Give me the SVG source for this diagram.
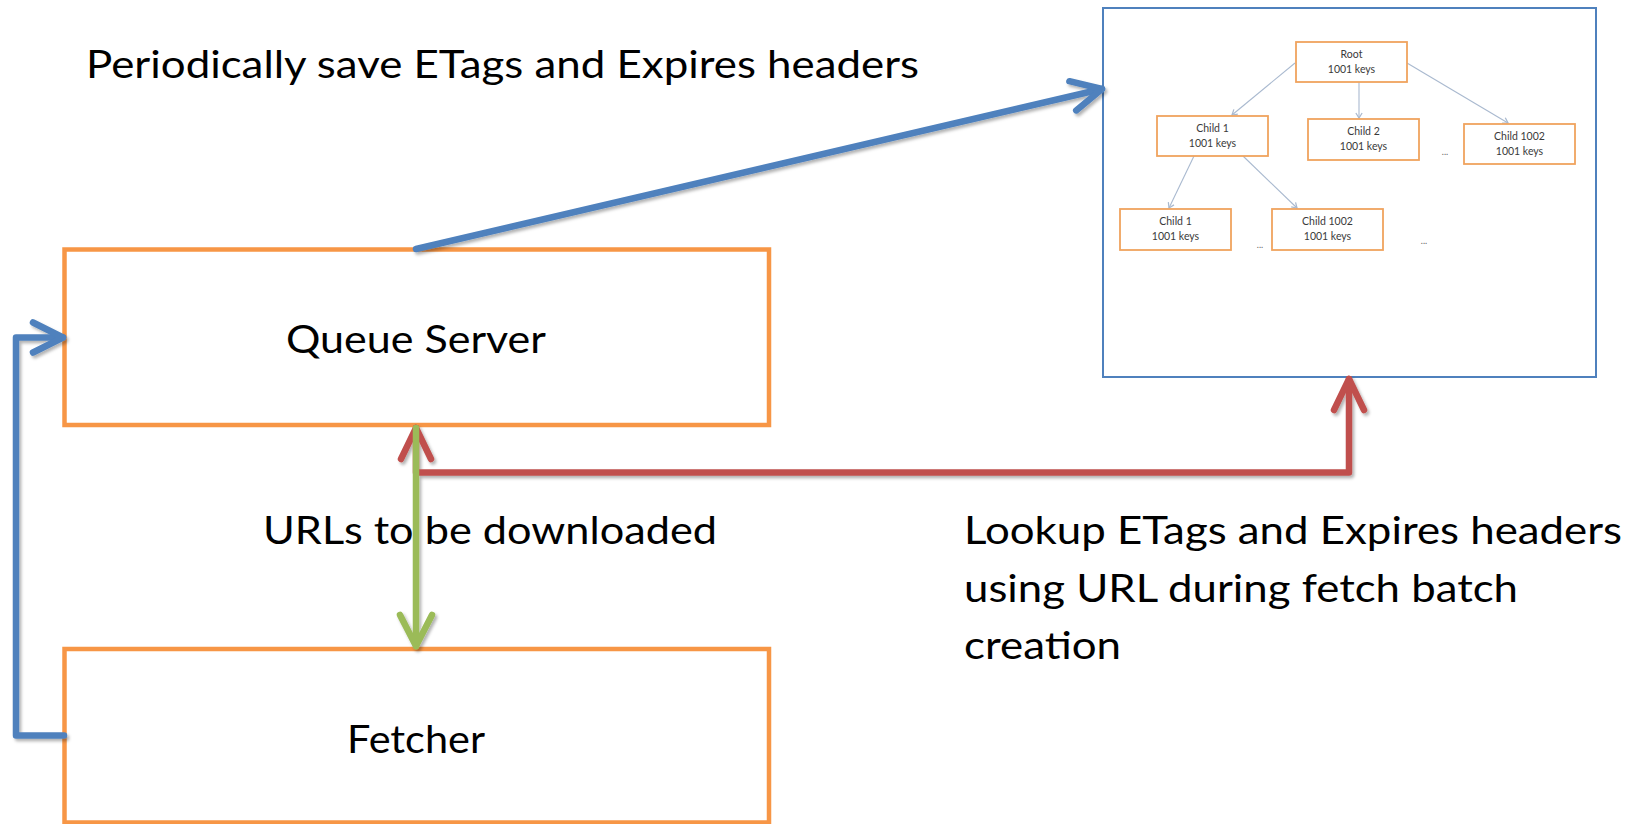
<svg xmlns="http://www.w3.org/2000/svg" width="1638" height="824" viewBox="0 0 1638 824">
  <defs>
    <style>
      .main { font-family: Lato, "Open Sans", "Liberation Sans", sans-serif; font-size: 38.5px; fill: #000; }
      .box { fill: #fff; stroke: #F79646; stroke-width: 4.5; }
      .conn { fill: none; stroke-width: 6.5; stroke-linecap: round; stroke-linejoin: round; }
      .tbox { fill: #fff; stroke: #F0A35E; stroke-width: 1.8; }
      .ttext { font-family: Lato, "Open Sans", "Liberation Sans", sans-serif; font-size: 10.5px; fill: #3a3a3a; text-anchor: middle; }
      .tedge { fill: none; stroke: #A9B9CF; stroke-width: 1.1; }
      .dots { font-family: Lato, "Liberation Sans", sans-serif; font-size: 9px; fill: #666; text-anchor: middle; }
    </style>
    <filter id="shadow" x="-5%" y="-5%" width="110%" height="110%">
      <feDropShadow dx="2" dy="2.5" stdDeviation="1.6" flood-color="#000" flood-opacity="0.3"/>
    </filter>
    <marker id="mBlue" markerUnits="userSpaceOnUse" markerWidth="50" markerHeight="50" viewBox="-40 -25 50 50" refX="0" refY="0" orient="auto-start-reverse">
      <path d="M -30 -15 L 0 0 L -30 15" fill="none" stroke="#4F81BD" stroke-width="6.5" stroke-linecap="round" stroke-linejoin="round"/>
    </marker>
    <marker id="mRed" markerUnits="userSpaceOnUse" markerWidth="50" markerHeight="50" viewBox="-40 -25 50 50" refX="0" refY="0" orient="auto-start-reverse">
      <path d="M -31 -15 L 0 0 L -31 15" fill="none" stroke="#C0504D" stroke-width="6.5" stroke-linecap="round" stroke-linejoin="round"/>
    </marker>
    <marker id="mGreen" markerUnits="userSpaceOnUse" markerWidth="50" markerHeight="50" viewBox="-40 -25 50 50" refX="0" refY="0" orient="auto-start-reverse">
      <path d="M -31 -16 L 0 0 L -31 16" fill="none" stroke="#9BBB59" stroke-width="6.5" stroke-linecap="round" stroke-linejoin="round"/>
    </marker>
    <marker id="mTree" markerUnits="userSpaceOnUse" markerWidth="10" markerHeight="10" viewBox="-6 -4 8 8" refX="0" refY="0" orient="auto">
      <path d="M -4 -2.5 L 0 0 L -4 2.5" fill="none" stroke="#A9B9CF" stroke-width="1"/>
    </marker>
  </defs>

  <rect x="0" y="0" width="1638" height="824" fill="#fff"/>

  <!-- B-tree picture -->
  <g id="tree">
    <rect x="1103" y="8" width="493" height="369" fill="#fff" stroke="#4F81BD" stroke-width="2"/>
    <g id="tree-edges">
      <line class="tedge" x1="1295" y1="63" x2="1232" y2="115" marker-end="url(#mTree)"/>
      <line class="tedge" x1="1359" y1="82" x2="1359" y2="118" marker-end="url(#mTree)"/>
      <line class="tedge" x1="1407" y1="63" x2="1508" y2="123" marker-end="url(#mTree)"/>
      <line class="tedge" x1="1194" y1="156" x2="1169" y2="208" marker-end="url(#mTree)"/>
      <line class="tedge" x1="1243" y1="156" x2="1297" y2="208" marker-end="url(#mTree)"/>
    </g>
    <g id="t-root">
      <rect class="tbox" x="1296" y="42" width="111" height="40"/>
      <text class="ttext" x="1351.5" y="58">Root</text>
      <text class="ttext" x="1351.5" y="73">1001 keys</text>
    </g>
    <g id="t-child1">
      <rect class="tbox" x="1157" y="116" width="111" height="40"/>
      <text class="ttext" x="1212.5" y="132">Child 1</text>
      <text class="ttext" x="1212.5" y="147">1001 keys</text>
    </g>
    <g id="t-child2">
      <rect class="tbox" x="1308" y="119" width="111" height="41"/>
      <text class="ttext" x="1363.5" y="135">Child 2</text>
      <text class="ttext" x="1363.5" y="150">1001 keys</text>
    </g>
    <g id="t-child1002">
      <rect class="tbox" x="1464" y="124" width="111" height="40"/>
      <text class="ttext" x="1519.5" y="140">Child 1002</text>
      <text class="ttext" x="1519.5" y="155">1001 keys</text>
    </g>
    <g id="t-gchild1">
      <rect class="tbox" x="1120" y="209" width="111" height="41"/>
      <text class="ttext" x="1175.5" y="225">Child 1</text>
      <text class="ttext" x="1175.5" y="240">1001 keys</text>
    </g>
    <g id="t-gchild1002">
      <rect class="tbox" x="1272" y="209" width="111" height="41"/>
      <text class="ttext" x="1327.5" y="225">Child 1002</text>
      <text class="ttext" x="1327.5" y="240">1001 keys</text>
    </g>
    <text class="dots" x="1445" y="155">...</text>
    <text class="dots" x="1260" y="248">...</text>
    <text class="dots" x="1424" y="244">...</text>
  </g>

  <!-- Main nodes -->
  <g id="queue-server">
    <rect class="box" x="64.5" y="249.5" width="704.5" height="175.5"/>
    <text class="main" x="416" y="353" text-anchor="middle" textLength="260" lengthAdjust="spacingAndGlyphs">Queue Server</text>
  </g>
  <g id="fetcher">
    <rect class="box" x="64.5" y="649" width="704.5" height="173.5"/>
    <text class="main" x="416" y="753" text-anchor="middle" textLength="138" lengthAdjust="spacingAndGlyphs">Fetcher</text>
  </g>

  <!-- Labels -->
  <g id="labels">
    <text class="main" x="86" y="78" textLength="833" lengthAdjust="spacingAndGlyphs">Periodically save ETags and Expires headers</text>
    <text class="main" x="263" y="544" textLength="454" lengthAdjust="spacingAndGlyphs">URLs to be downloaded</text>
    <text class="main" x="964" y="544" textLength="658" lengthAdjust="spacingAndGlyphs">Lookup ETags and Expires headers</text>
    <text class="main" x="964" y="601.5" textLength="554" lengthAdjust="spacingAndGlyphs">using URL during fetch batch</text>
    <text class="main" x="964" y="659" textLength="157" lengthAdjust="spacingAndGlyphs">creation</text>
  </g>

  <!-- Connectors -->
  <g id="connectors" filter="url(#shadow)">
    <path class="conn" stroke="#4F81BD" d="M 416 249 L 1102 89" marker-end="url(#mBlue)"/>
    <path class="conn" stroke="#4F81BD" d="M 64 735.5 H 16 V 337.5 H 63" marker-end="url(#mBlue)"/>
    <path class="conn" stroke="#C0504D" d="M 416 428 V 472.5 H 1349 V 379" marker-start="url(#mRed)" marker-end="url(#mRed)"/>
    <path class="conn" stroke="#9BBB59" d="M 416 428 V 646" marker-end="url(#mGreen)"/>
  </g>
</svg>
